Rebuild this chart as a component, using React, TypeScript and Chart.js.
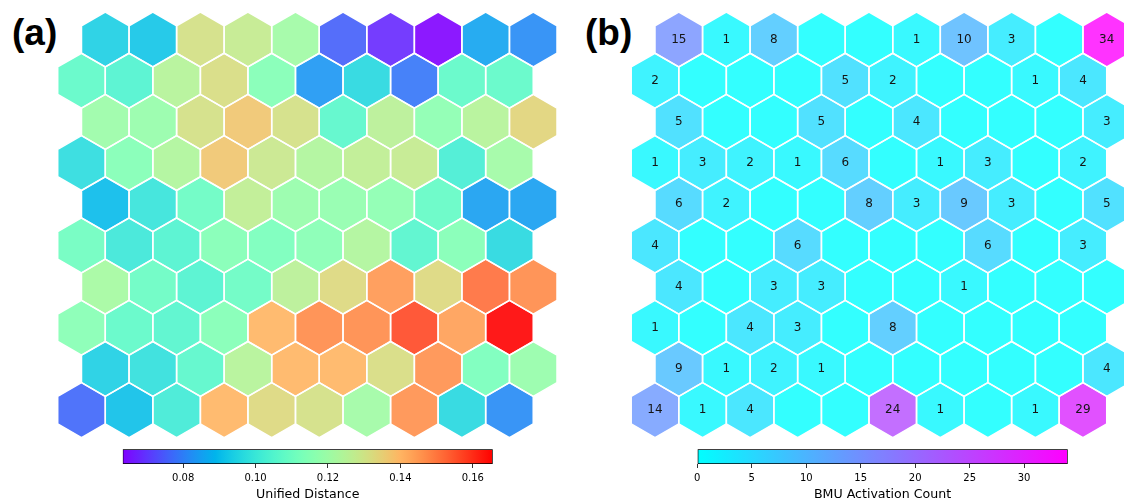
import React, { useEffect, useRef } from "react";
import { Chart, registerables } from "chart.js";

Chart.register(...registerables);
Chart.defaults.font.family = "'DejaVu Sans', sans-serif";

// ---- SOM map size (hexagonal topology, row 0 is the top row) ----
const ROWS = 10;
const COLS = 10;

// ---- (a) unified distance per node ----
const uRow0 = [0.094, 0.0919, 0.1308, 0.1277, 0.1205, 0.0756, 0.0684, 0.0633, 0.0858, 0.0817];
const uRow1 = [0.1072, 0.1042, 0.1246, 0.1318, 0.1144, 0.0837, 0.096, 0.0786, 0.1072, 0.1072];
const uRow2 = [0.1195, 0.1185, 0.1308, 0.1369, 0.1308, 0.1062, 0.1256, 0.1164, 0.1246, 0.1338];
const uRow3 = [0.097, 0.1144, 0.1236, 0.1369, 0.1287, 0.1236, 0.1267, 0.1277, 0.1021, 0.1205];
const uRow4 = [0.0899, 0.0991, 0.1093, 0.1267, 0.1185, 0.1175, 0.1164, 0.1083, 0.0848, 0.0848];
const uRow5 = [0.1103, 0.1001, 0.1042, 0.1144, 0.1124, 0.1154, 0.1236, 0.1052, 0.1144, 0.096];
const uRow6 = [0.1216, 0.1093, 0.1042, 0.1093, 0.1256, 0.1328, 0.1451, 0.1328, 0.1512, 0.1471];
const uRow7 = [0.1154, 0.1072, 0.1052, 0.1144, 0.14, 0.1471, 0.1471, 0.1563, 0.144, 0.1655];
const uRow8 = [0.094, 0.098, 0.1062, 0.1246, 0.14, 0.14, 0.1318, 0.1461, 0.1124, 0.1185];
const uRow9 = [0.0766, 0.0909, 0.1011, 0.14, 0.1328, 0.1308, 0.1205, 0.1461, 0.096, 0.0817];
const uMatrix = [uRow0, uRow1, uRow2, uRow3, uRow4, uRow5, uRow6, uRow7, uRow8, uRow9];

// ---- (b) BMU hit count per node ----
const hitRow0 = [15, 1, 8, 0, 0, 1, 10, 3, 0, 34];
const hitRow1 = [2, 0, 0, 0, 5, 2, 0, 0, 1, 4];
const hitRow2 = [5, 0, 0, 5, 0, 4, 0, 0, 0, 3];
const hitRow3 = [1, 3, 2, 1, 6, 0, 1, 3, 0, 2];
const hitRow4 = [6, 2, 0, 0, 8, 3, 9, 3, 0, 5];
const hitRow5 = [4, 0, 0, 6, 0, 0, 0, 6, 0, 3];
const hitRow6 = [4, 0, 3, 3, 0, 0, 1, 0, 0, 0];
const hitRow7 = [1, 0, 4, 3, 0, 8, 0, 0, 0, 0];
const hitRow8 = [9, 1, 2, 1, 0, 0, 0, 0, 0, 4];
const hitRow9 = [14, 1, 4, 0, 0, 24, 1, 0, 1, 29];
const hitMatrix = [hitRow0, hitRow1, hitRow2, hitRow3, hitRow4, hitRow5, hitRow6, hitRow7, hitRow8, hitRow9];

// ---- colour bar ticks ----
const distanceTicks = [0.08, 0.1, 0.12, 0.14, 0.16];
const countTicks = [0, 5, 10, 15, 20, 25, 30];

// ---- colormaps ----
type RGB = [number, number, number];
const clamp01 = (v: number) => Math.max(0, Math.min(1, v));

function rainbow(t: number): RGB {
  const x = clamp01(t);
  const r = clamp01(Math.abs(2 * x - 0.5));
  const g = clamp01(Math.sin(Math.PI * x));
  const b = clamp01(Math.cos((Math.PI * x) / 2));
  return [Math.round(r * 255), Math.round(g * 255), Math.round(b * 255)];
}

function cool(t: number): RGB {
  const x = clamp01(t);
  return [Math.round(x * 255), Math.round((1 - x) * 255), 255];
}

const rgba = (c: RGB, a = 1) => `rgba(${c[0]},${c[1]},${c[2]},${a})`;

// ---- geometry ----
const PX_PER_UNIT = 47.55; // node pitch on screen
const ROW_STEP = Math.sqrt(3) / 2; // vertical pitch of hex rows in data units
const HEX_R = 1 / Math.sqrt(3); // centre-to-corner radius
const ROW0_PX = 39.5;
const ROW9_PX = ROW0_PX + (ROWS - 1) * ROW_STEP * PX_PER_UNIT;

type Cmap = (t: number) => RGB;

function hexCentre(r: number, c: number) {
  return { x: c + (r % 2 === 0 ? 0.5 : 0), y: (ROWS - 1 - r) * ROW_STEP };
}

function hexCorners(cx: number, cy: number) {
  return [30, 90, 150, 210, 270, 330, 30].map((deg) => {
    const a = (deg * Math.PI) / 180;
    return { x: cx + HEX_R * Math.cos(a), y: cy + HEX_R * Math.sin(a) };
  });
}

interface HexMapProps {
  values: number[][];
  vmin: number;
  vmax: number;
  cmap: Cmap;
  alpha: number;
  showCounts: boolean;
  left: number;
  top: number;
  width: number;
  height: number;
  originX: number;
}

function HexMap(props: HexMapProps) {
  const ref = useRef<HTMLCanvasElement | null>(null);

  useEffect(() => {
    const { values, vmin, vmax, cmap, alpha, showCounts, left, top, width, height, originX } = props;
    const datasets: any[] = [];
    const centres: { x: number; y: number }[] = [];
    const texts: string[] = [];

    for (let r = 0; r < ROWS; r++) {
      for (let c = 0; c < COLS; c++) {
        const v = values[r][c];
        const ctr = hexCentre(r, c);
        centres.push(ctr);
        texts.push(showCounts && v > 0 ? String(v) : "");
        datasets.push({
          type: "line",
          data: hexCorners(ctr.x, ctr.y),
          backgroundColor: rgba(cmap((v - vmin) / (vmax - vmin)), alpha),
          borderColor: "#ffffff",
          borderWidth: 1.5,
          fill: "shape",
          pointRadius: 0,
          pointHoverRadius: 0,
          tension: 0,
        });
      }
    }

    // node centres, used to place the count labels
    datasets.push({
      type: "line",
      data: centres,
      showLine: false,
      pointRadius: 0,
      pointHoverRadius: 0,
      fill: false,
    });
    const centreIndex = datasets.length - 1;

    const countLabels = {
      id: "countLabels",
      afterDatasetsDraw(chart: any) {
        const meta = chart.getDatasetMeta(centreIndex);
        const ctx = chart.ctx;
        ctx.save();
        ctx.font = "12px 'DejaVu Sans', sans-serif";
        ctx.fillStyle = "#151515";
        ctx.textAlign = "center";
        ctx.textBaseline = "middle";
        meta.data.forEach((pt: any, i: number) => {
          if (texts[i]) ctx.fillText(texts[i], pt.x, pt.y);
        });
        ctx.restore();
      },
    };

    const xMin = (left - originX) / PX_PER_UNIT;
    const yMax = (ROW9_PX - top) / PX_PER_UNIT;

    const chart = new Chart(ref.current as HTMLCanvasElement, {
      type: "line",
      data: { datasets },
      options: {
        animation: false,
        responsive: false,
        events: [],
        layout: { padding: 0 },
        plugins: {
          legend: { display: false },
          tooltip: { enabled: false },
          filler: { drawTime: "beforeDatasetsDraw" },
        },
        scales: {
          x: { type: "linear", display: false, min: xMin, max: xMin + width / PX_PER_UNIT },
          y: { type: "linear", display: false, min: yMax - height / PX_PER_UNIT, max: yMax },
        },
      } as any,
      plugins: [countLabels],
    });
    return () => chart.destroy();
  }, []);

  return (
    <canvas
      ref={ref}
      width={props.width}
      height={props.height}
      style={{ position: "absolute", left: props.left, top: props.top, width: props.width, height: props.height }}
    />
  );
}

interface ColorBarProps {
  vmin: number;
  vmax: number;
  cmap: Cmap;
  ticks: number[];
  format: (v: number) => string;
  title: string;
  left: number;
  top: number;
  width: number;
  height: number;
  barLeft: number;
  barRight: number;
  barTop: number;
}

function ColorBar(props: ColorBarProps) {
  const ref = useRef<HTMLCanvasElement | null>(null);

  useEffect(() => {
    const { vmin, vmax, cmap, ticks, format, title, left, top, width, barLeft, barRight, barTop } = props;
    const chart = new Chart(ref.current as HTMLCanvasElement, {
      type: "bar",
      data: {
        labels: [""],
        datasets: [
          {
            data: [[vmin, vmax]],
            backgroundColor: (ctx: any) => {
              const area = ctx.chart.chartArea;
              if (!area) return "rgba(0,0,0,0)";
              const g = ctx.chart.ctx.createLinearGradient(area.left, 0, area.right, 0);
              const n = 64;
              for (let i = 0; i <= n; i++) g.addColorStop(i / n, rgba(cmap(i / n)));
              return g;
            },
            borderColor: "#000000",
            borderWidth: 1,
            borderSkipped: false,
            barPercentage: 1,
            categoryPercentage: 1,
          },
        ],
      },
      options: {
        indexAxis: "y",
        animation: false,
        responsive: false,
        events: [],
        layout: {
          padding: { left: barLeft - left, right: left + width - barRight, top: barTop - top, bottom: 0 },
        },
        plugins: {
          legend: { display: false },
          tooltip: { enabled: false },
          title: {
            display: true,
            position: "bottom",
            text: title,
            color: "#000000",
            font: { size: 12.6, weight: "normal", lineHeight: 1.0 },
            padding: { top: 0, bottom: 0 },
          },
        },
        scales: {
          x: {
            type: "linear",
            position: "bottom",
            min: vmin,
            max: vmax,
            afterBuildTicks: (scale: any) => {
              scale.ticks = ticks.map((v) => ({ value: v }));
            },
            ticks: {
              callback: (v: any) => format(Number(v)),
              color: "#000000",
              font: { size: 10, lineHeight: 1.0 },
              padding: 5.2,
              maxRotation: 0,
              autoSkip: false,
            },
            grid: { drawOnChartArea: false, drawTicks: true, tickLength: 4, color: "#000000", lineWidth: 0.8 },
            border: { display: false },
          },
          y: { display: false },
        },
      } as any,
    });
    return () => chart.destroy();
  }, []);

  return (
    <canvas
      ref={ref}
      width={props.width}
      height={props.height}
      style={{ position: "absolute", left: props.left, top: props.top, width: props.width, height: props.height }}
    />
  );
}

const panelLabel: React.CSSProperties = {
  position: "absolute",
  fontFamily: "'Liberation Sans', Arial, sans-serif",
  fontWeight: 700,
  fontSize: 37,
  lineHeight: "37px",
  color: "#000",
  whiteSpace: "nowrap",
};

export default function App() {
  const uFlat = uMatrix.flat();
  const uMin = Math.min(...uFlat);
  const uMax = Math.max(...uFlat);
  const hitMax = Math.max(...hitMatrix.flat());

  return (
    <div
      style={{
        position: "absolute",
        left: 0,
        top: 0,
        width: 1124,
        height: 501,
        background: "#ffffff",
        overflow: "hidden",
      }}
    >
      <div style={{ ...panelLabel, left: 12, top: 14 }}>(a)</div>
      <div style={{ ...panelLabel, left: 585, top: 14 }}>(b)</div>

      <HexMap
        values={uMatrix}
        vmin={uMin}
        vmax={uMax}
        cmap={rainbow}
        alpha={0.9}
        showCounts={false}
        left={40}
        top={0}
        width={530}
        height={450}
        originX={81.5}
      />
      <HexMap
        values={hitMatrix}
        vmin={0}
        vmax={hitMax}
        cmap={cool}
        alpha={0.8}
        showCounts={true}
        left={614}
        top={0}
        width={510}
        height={450}
        originX={655}
      />

      <ColorBar
        vmin={uMin}
        vmax={uMax}
        cmap={rainbow}
        ticks={distanceTicks}
        format={(v) => v.toFixed(2)}
        title="Unified Distance"
        left={100}
        top={440}
        width={420}
        height={61}
        barLeft={122.7}
        barRight={492.7}
        barTop={449.3}
      />
      <ColorBar
        vmin={0}
        vmax={hitMax}
        cmap={cool}
        ticks={countTicks}
        format={(v) => String(Math.round(v))}
        title="BMU Activation Count"
        left={670}
        top={440}
        width={420}
        height={61}
        barLeft={697.3}
        barRight={1067.7}
        barTop={449.3}
      />
    </div>
  );
}
